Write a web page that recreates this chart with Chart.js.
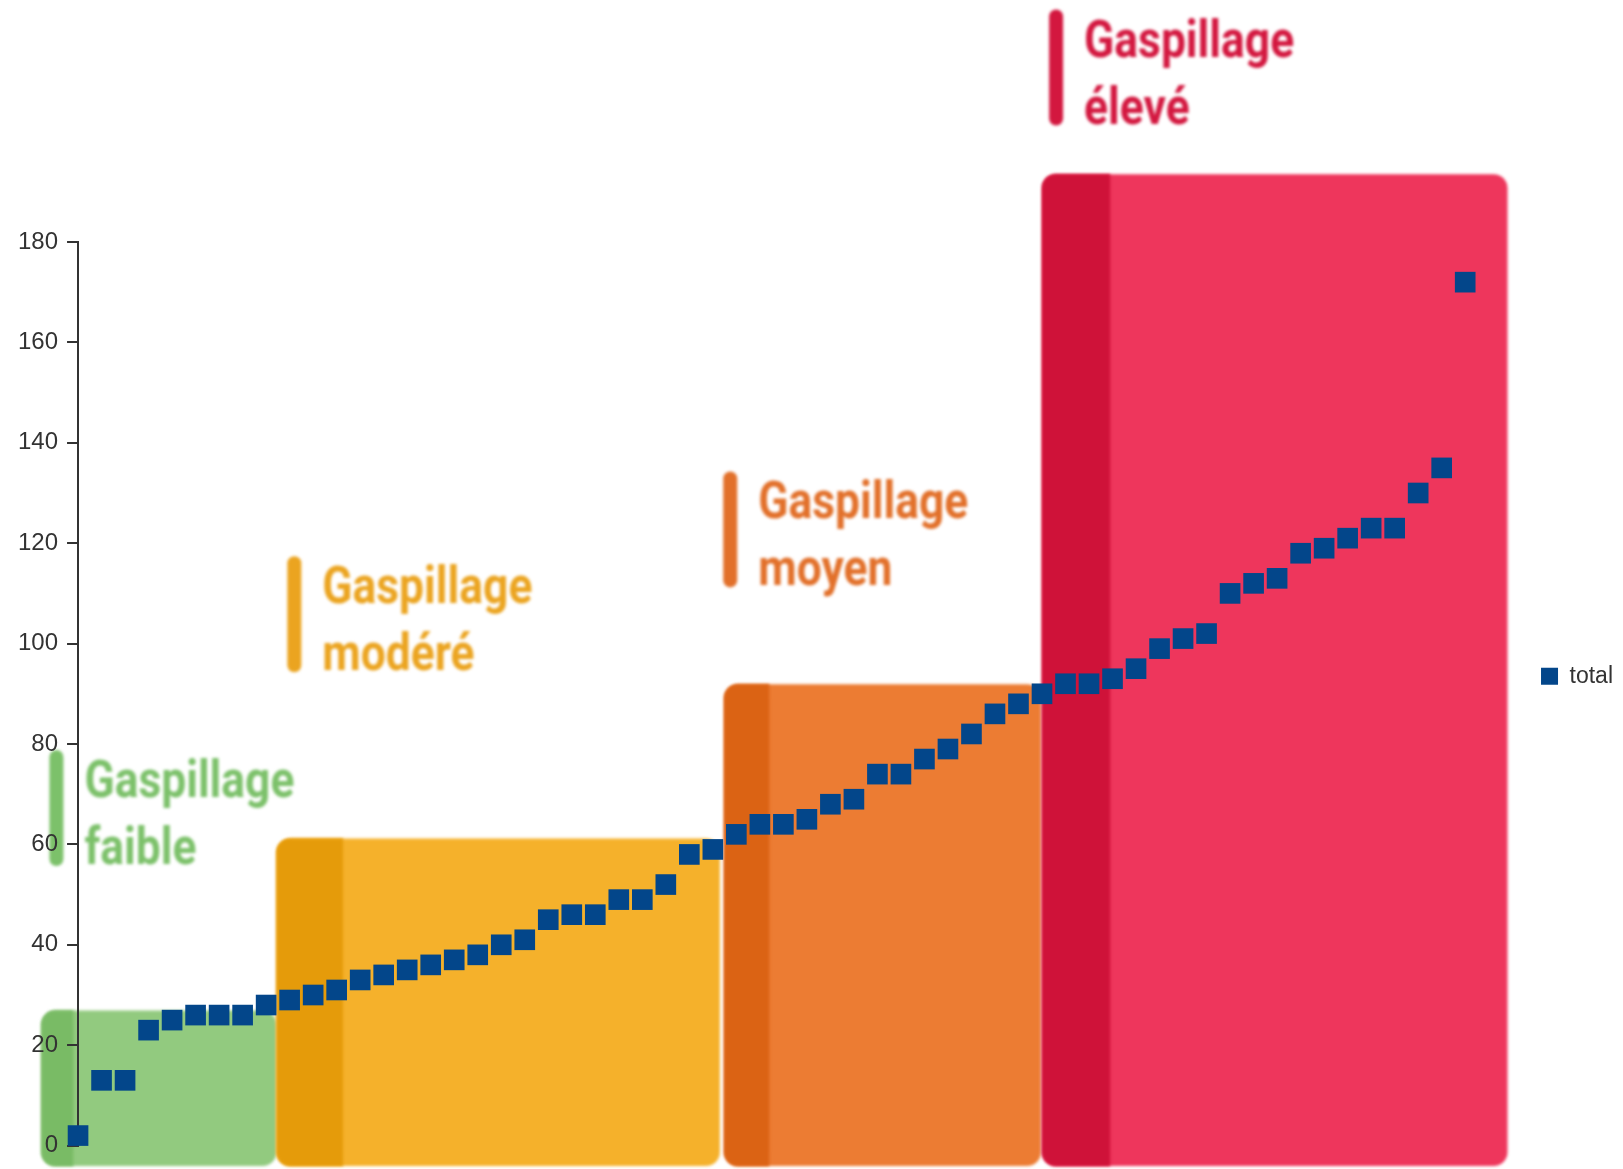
<!DOCTYPE html>
<html>
<head>
<meta charset="utf-8">
<script src="https://cdn.jsdelivr.net/npm/chart.js@4/dist/chart.umd.min.js"></script>
<style>
  html, body { margin: 0; padding: 0; background: #fff; }
  canvas { display: block; }
</style>
</head>
<body>
<canvas id="chart" width="1623" height="1169"></canvas>
<script>
// valeurs triées, une par point
const totals = [2, 13, 13, 23, 25, 26, 26, 26, 28, 29, 30, 31, 33, 34, 35, 36, 37, 38, 40, 41,
                45, 46, 46, 49, 49, 52, 58, 59, 62, 64, 64, 65, 68, 69, 74, 74, 77, 79, 82, 86,
                88, 90, 92, 92, 93, 95, 99, 101, 102, 110, 112, 113, 118, 119, 121, 123, 123, 130, 135, 172];
const yTicks = [0, 20, 40, 60, 80, 100, 120, 140, 160, 180];

// zones de fond (en index de point / valeur)
const zoneNames = ['faible', 'modéré', 'moyen', 'élevé'];
const zoneFrom = [-1.56, 8.44, 27.48, 41.0];
const zoneTo = [8.44, 27.3, 40.96, 60.8];
const zoneShade = [-0.2, 11.27, 29.4, 43.9];
const zoneTop = [26.9, 61.2, 91.9, 193.5];

const zoneLight = ['#92CA7F', '#F5B12B', '#EC7C33', '#EE365C'];
const zoneDark = ['#79BB65', '#E59B0A', '#DB6314', '#CF1239'];
const labelColors = ['#7CC16A', '#EBA420', '#E2702A', '#D3173F'];
// ancrage des étiquettes (haut de la barre verticale)
const labelAtX = [-0.92, 9.2, 27.74, 41.6];
const labelAtY = [78.8, 117.4, 134.3, 226.3];

const zonesPlugin = {
    id: 'zones',
    beforeDraw(chart) {
        const { ctx, scales: { x, y } } = chart;
        ctx.save();
        ctx.fillStyle = '#fff';
        ctx.fillRect(0, 0, chart.width, chart.height);

        const bottom = chart.height - 3;
        ctx.filter = 'blur(1.5px)';
        zoneNames.forEach((name, i) => {
            const x0 = x.getPixelForValue(zoneFrom[i]);
            const x1 = x.getPixelForValue(zoneTo[i]);
            const xs = x.getPixelForValue(zoneShade[i]);
            const top = y.getPixelForValue(zoneTop[i]);
            ctx.fillStyle = zoneLight[i];
            ctx.beginPath();
            ctx.roundRect(x0, top, x1 - x0, bottom - top, 14);
            ctx.fill();
            ctx.fillStyle = zoneDark[i];
            ctx.beginPath();
            ctx.roundRect(x0, top, xs - x0, bottom - top, [14, 0, 0, 14]);
            ctx.fill();
        });

        // étiquettes "Gaspillage ..."
        ctx.filter = 'blur(1.4px)';
        ctx.font = 'bold 52px Roboto';
        ctx.textBaseline = 'alphabetic';
        const sx = 210 / ctx.measureText('Gaspillage').width;
        zoneNames.forEach((name, i) => {
            const bx = x.getPixelForValue(labelAtX[i]);
            const by = y.getPixelForValue(labelAtY[i]);
            ctx.fillStyle = labelColors[i];
            ctx.beginPath();
            ctx.roundRect(bx - 7, by, 14, 116, 7);
            ctx.fill();
            ctx.save();
            ctx.translate(bx + 28, by);
            ctx.scale(sx, 1);
            ctx.fillText('Gaspillage', 0, 47);
            ctx.fillText(name, 0, 114);
            ctx.restore();
        });
        ctx.restore();
    },
    afterUpdate(chart) {
        // remonter un peu la légende
        if (chart.legend) {
            chart.legend.top -= 26;
            chart.legend.bottom -= 26;
        }
    }
};

const ctx = document.getElementById('chart').getContext('2d');
new Chart(ctx, {
    type: 'scatter',
    data: {
        datasets: [{
            label: 'total',
            data: totals.map((v, i) => ({ x: i, y: v })),
            pointStyle: 'rect',
            pointRadius: 14.6,
            pointHoverRadius: 14.6,
            backgroundColor: '#03468A',
            borderColor: '#03468A',
            borderWidth: 0,
            showLine: false,
            clip: false
        }]
    },
    options: {
        responsive: false,
        animation: false,
        layout: { autoPadding: false, padding: { left: 9, top: 242, right: 0, bottom: 6.5 } },
        scales: {
            x: { type: 'linear', min: 0, max: 61.8, display: false },
            y: {
                min: yTicks[0],
                max: yTicks[yTicks.length - 1],
                afterBuildTicks: axis => { axis.ticks = yTicks.map(v => ({ value: v })); },
                ticks: { color: '#333', padding: 9, font: { family: 'Liberation Sans', size: 24 } },
                grid: { drawOnChartArea: false, color: '#333', lineWidth: 2, tickLength: 11 },
                border: { color: '#333', width: 2 }
            }
        },
        plugins: {
            legend: {
                position: 'right',
                labels: {
                    boxWidth: 17,
                    boxHeight: 17,
                    color: '#333',
                    font: { family: 'Liberation Sans', size: 23 }
                }
            },
            tooltip: { enabled: false }
        }
    },
    plugins: [zonesPlugin]
});
</script>
</body>
</html>
